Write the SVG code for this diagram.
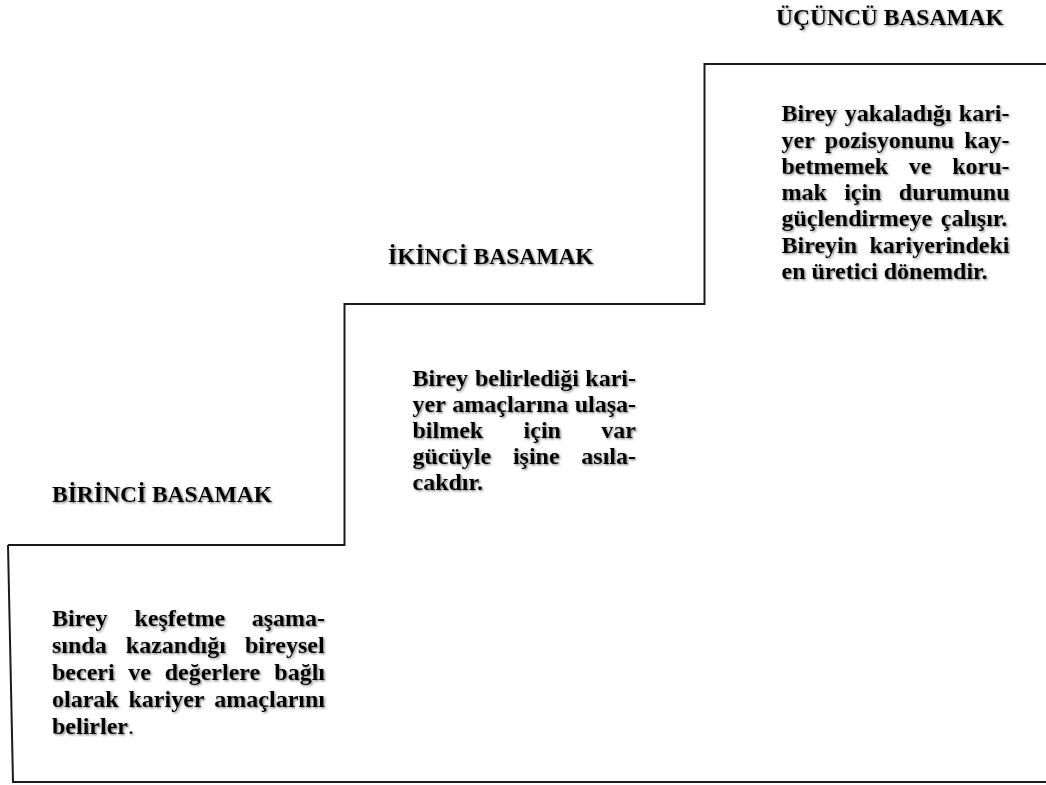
<svg xmlns="http://www.w3.org/2000/svg" width="1046" height="785" viewBox="0 0 1046 785">
<defs>
<filter id="sh" x="-5%" y="-20%" width="110%" height="140%">
<feDropShadow dx="1.2" dy="1.2" stdDeviation="0.8" flood-color="#555" flood-opacity="0.75"/>
</filter>
<style>
.t{font-family:"Liberation Serif","Times New Roman",serif;font-weight:bold;font-size:24px;fill:#000}
.h{font-family:"Liberation Serif","Times New Roman",serif;font-weight:bold;font-size:23.5px;fill:#000}
.ln{fill:none;stroke:#1a1a1a;stroke-width:2}
</style>
</defs>
<rect width="1046" height="785" fill="#fff"/>
<g id="connectors">
<polyline class="ln" points="8,545 344.5,545 344.5,304 704.5,304 704.5,64 1046,64"/>
<polyline class="ln" points="8,545 13,782 1046,782"/>
</g>
<g id="step1" filter="url(#sh)">
<text class="h" x="52" y="502">BİRİNCİ BASAMAK</text>
<text class="t" y="626"><tspan x="52">Birey</tspan><tspan x="134.53">keşfetme</tspan><tspan x="251.68">aşama-</tspan></text>
<text class="t" y="653"><tspan x="52">sında</tspan><tspan x="125.84">kazandığı</tspan><tspan x="245.01">bireysel</tspan></text>
<text class="t" y="680"><tspan x="52">beceri</tspan><tspan x="128.33">ve</tspan><tspan x="164.68">değerlere</tspan><tspan x="274.32">bağlı</tspan></text>
<text class="t" y="707"><tspan x="52">olarak</tspan><tspan x="128.52">kariyer</tspan><tspan x="214.34">amaçlarını</tspan></text>
<text class="t" x="52" y="734">belirler<tspan font-weight="normal">.</tspan></text>
</g>
<g id="step2" filter="url(#sh)">
<text class="h" x="388" y="264">İKİNCİ BASAMAK</text>
<text class="t" y="386"><tspan x="412.5">Birey</tspan><tspan x="474.91">belirlediği</tspan><tspan x="585.34">kari-</tspan></text>
<text class="t" y="412"><tspan x="412.5">yer</tspan><tspan x="452.24">amaçlarına</tspan><tspan x="574.66">ulaşa-</tspan></text>
<text class="t" y="438"><tspan x="412.5">bilmek</tspan><tspan x="523.59">için</tspan><tspan x="601.34">var</tspan></text>
<text class="t" y="464"><tspan x="412.5">gücüyle</tspan><tspan x="512.91">işine</tspan><tspan x="581.33">asıla-</tspan></text>
<text class="t" x="412.5" y="490">cakdır.</text>
</g>
<g id="step3" filter="url(#sh)">
<text class="h" x="776" y="25">ÜÇÜNCÜ BASAMAK</text>
<text class="t" y="121"><tspan x="781.5">Birey</tspan><tspan x="844.82">yakaladığı</tspan><tspan x="958.84">kari-</tspan></text>
<text class="t" y="147.5"><tspan x="781.5">yer</tspan><tspan x="824.8">pozisyonunu</tspan><tspan x="964.16">kay-</tspan></text>
<text class="t" y="174"><tspan x="781.5">betmemek</tspan><tspan x="908.82">ve</tspan><tspan x="952.16">koru-</tspan></text>
<text class="t" y="200"><tspan x="781.5">mak</tspan><tspan x="844.14">için</tspan><tspan x="898.79">durumunu</tspan></text>
<text class="t" y="226"><tspan x="781.5">güçlendirmeye</tspan><tspan x="940.84">çalışır.</tspan></text>
<text class="t" y="252.5"><tspan x="781.5">Bireyin</tspan><tspan x="869.48">kariyerindeki</tspan></text>
<text class="t" x="781.5" y="279">en üretici dönemdir.</text>
</g>
</svg>
